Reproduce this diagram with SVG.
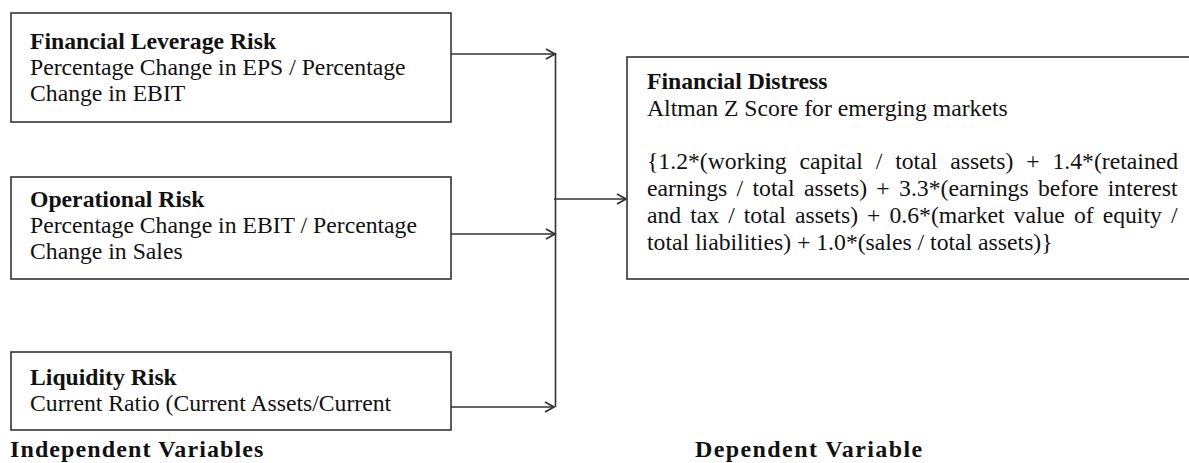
<svg xmlns="http://www.w3.org/2000/svg" width="1189" height="463" viewBox="0 0 1189 463">
  <style>
    .box { fill: #ffffff; stroke: #333333; stroke-width: 1.6; }
    .t { font-family: "Liberation Serif", "Times New Roman", serif; font-size: 23.7px; fill: #111111; }
    .b { font-weight: bold; }
    .lbl { font-family: "Liberation Serif", "Times New Roman", serif; font-size: 24px; font-weight: bold; fill: #111111; }
    .conn { fill: none; stroke: #333333; stroke-width: 1.6; }
  </style>
  <defs>
    <marker id="arrow" markerUnits="userSpaceOnUse" markerWidth="14" markerHeight="14" refX="10" refY="6" orient="auto">
      <path d="M1,1 L10,6 L1,11" fill="none" stroke="#333333" stroke-width="1.8"/>
    </marker>
  </defs>
  <rect width="1189" height="463" fill="#ffffff"/>

  <g id="financial-leverage-risk">
    <rect class="box" x="11" y="13" width="440" height="109"/>
    <text class="t b" x="30" y="49">Financial Leverage Risk</text>
    <text class="t" x="30" y="75">Percentage Change in EPS / Percentage</text>
    <text class="t" x="30" y="101">Change in EBIT</text>
  </g>

  <g id="operational-risk">
    <rect class="box" x="11" y="177" width="440" height="102"/>
    <text class="t b" x="30" y="207">Operational Risk</text>
    <text class="t" x="30" y="233">Percentage Change in EBIT / Percentage</text>
    <text class="t" x="30" y="259">Change in Sales</text>
  </g>

  <g id="liquidity-risk">
    <rect class="box" x="11" y="352" width="440" height="78"/>
    <text class="t b" x="30" y="385">Liquidity Risk</text>
    <text class="t" x="30" y="411">Current Ratio (Current Assets/Current</text>
  </g>

  <g id="financial-distress">
    <rect class="box" x="627" y="57" width="570" height="222"/>
    <text class="t b" x="647" y="89">Financial Distress</text>
    <text class="t" x="647" y="116">Altman Z Score for emerging markets</text>
    <text class="t" x="647" y="169" style="word-spacing:7px">{1.2*(working capital / total assets) + 1.4*(retained</text>
    <text class="t" x="647" y="196" style="word-spacing:3.4px">earnings / total assets) + 3.3*(earnings before interest</text>
    <text class="t" x="647" y="223" style="word-spacing:3.1px">and tax / total assets) + 0.6*(market value of equity /</text>
    <text class="t" x="647" y="250">total liabilities) + 1.0*(sales / total assets)}</text>
  </g>

  <g id="connectors">
    <line class="conn" x1="451" y1="54" x2="555" y2="54" marker-end="url(#arrow)"/>
    <line class="conn" x1="451" y1="234" x2="555" y2="234" marker-end="url(#arrow)"/>
    <line class="conn" x1="451" y1="407" x2="554" y2="407" marker-end="url(#arrow)"/>
    <line class="conn" x1="555.5" y1="53" x2="555.5" y2="407"/>
    <line class="conn" x1="554" y1="199" x2="626" y2="199" marker-end="url(#arrow)"/>
  </g>

  <g id="labels">
    <text class="lbl" x="10" y="457" style="letter-spacing:1.1px">Independent Variables</text>
    <text class="lbl" x="695" y="457" style="letter-spacing:1.4px">Dependent Variable</text>
  </g>
</svg>
